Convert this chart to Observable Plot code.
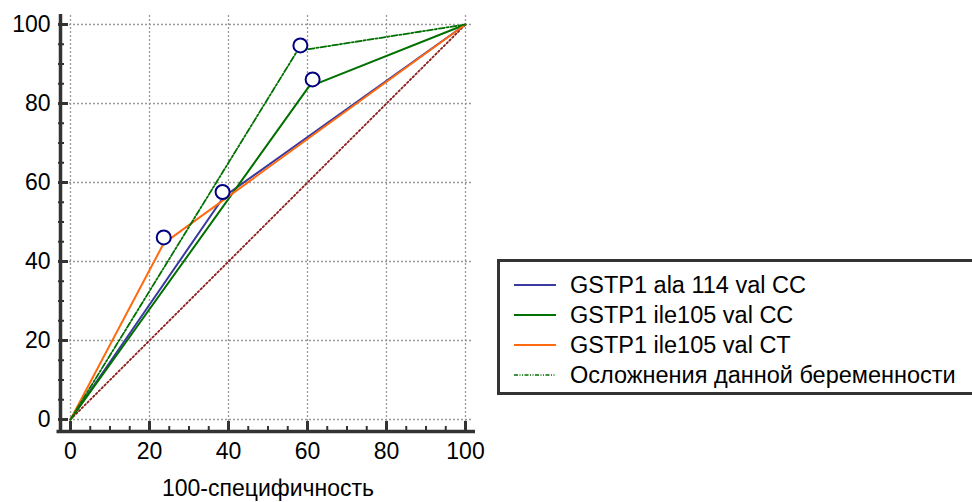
<!DOCTYPE html>
<html>
<head>
<meta charset="utf-8">
<script src="https://cdn.jsdelivr.net/npm/d3@7"></script>
<script src="https://cdn.jsdelivr.net/npm/@observablehq/plot@0.6"></script>
<style>
  html, body { margin: 0; padding: 0; background: #fff; }
  #wrap { position: relative; width: 972px; height: 502px; overflow: hidden; font-family: "Liberation Sans", Arial, sans-serif; }
  #legend { position: absolute; left: 497px; top: 259px; width: 500px; height: 130px; border: 3px solid #333; box-sizing: content-box; background: #fff; }
  .row { position: absolute; left: 14px; height: 30px; display: flex; align-items: center; font-size: 23.5px; color: #000; white-space: nowrap; }
  .row svg { margin-right: 14px; }
</style>
</head>
<body>
<div id="wrap"><div id="chart"></div><div id="legend"></div></div>
<script>
// ---- data ----
const seriesNames = ["GSTP1 ala 114 val CC", "GSTP1 ile105 val CC", "GSTP1 ile105 val CT", "Осложнения данной беременности"];
const seriesColors = ["#3a3aa0", "#007000", "#ff6a10", "#007000"];
const seriesDash = [null, null, null, "6,2,2,2"];
// ROC vertices: x = 100-specificity, y = sensitivity
const rocX = [
  [0, 38.8, 100],
  [0, 60.3, 100],
  [0, 23.6, 100],
  [0, 57.4, 100]
];
const rocY = [
  [0, 56.4, 100],
  [0, 84.2, 100],
  [0, 44.6, 100],
  [0, 93.3, 100]
];
// criterion markers (circles)
const markerX = [38.5, 61.3, 23.6, 58.2];
const markerY = [57.6, 86.1, 46.1, 94.7];
const diagX = [0, 100];
const diagY = [0, 100];
const majorTicks = [0, 20, 40, 60, 80, 100];
const minorTicks = [5, 10, 15, 25, 30, 35, 45, 50, 55, 65, 70, 75, 85, 90, 95];
const xTitle = "100-специфичность";

// ---- build tables ----
const rocPoints = [];
seriesNames.forEach((s, i) => rocX[i].forEach((x, j) => rocPoints.push({series: s, idx: i, x, y: rocY[i][j]})));
const markers = seriesNames.map((s, i) => ({series: s, x: markerX[i], y: markerY[i]}));
const diag = diagX.map((x, i) => ({x, y: diagY[i]}));

const axisColor = "#333";
const lineMarks = seriesNames.map((s, i) =>
  Plot.line(rocPoints.filter(d => d.idx === i), {
    x: "x", y: "y", stroke: seriesColors[i], strokeWidth: i === 3 ? 1.8 : 2,
    strokeDasharray: seriesDash[i] || undefined
  })
);

const chart = Plot.plot({
  width: 972,
  height: 502,
  marginLeft: 70,
  marginRight: 507,
  marginTop: 24,
  marginBottom: 83,
  style: {fontFamily: "'Liberation Sans', Arial, sans-serif", background: "#fff"},
  x: {domain: [0, 100]},
  y: {domain: [0, 100]},
  marks: [
    // grid
    Plot.ruleX(majorTicks, {x: d => d, stroke: "#999", strokeWidth: 1.3, strokeDasharray: "2,2", insetTop: -9, insetBottom: -3}),
    Plot.ruleY(majorTicks, {y: d => d, stroke: "#999", strokeWidth: 1.3, strokeDasharray: "2,2", insetLeft: -1, insetRight: -8}),
    // axis lines
    Plot.ruleX([0], {x: d => d, dx: -10, stroke: axisColor, strokeWidth: 3.5, insetTop: -10, insetBottom: -13.5}),
    Plot.ruleY([0], {y: d => d, dy: 12, stroke: axisColor, strokeWidth: 3.5, insetLeft: -13.5, insetRight: -10}),
    // ticks x
    Plot.ruleX(majorTicks, {x: d => d, y1: 0, y2: 0, insetTop: 2, insetBottom: -12, stroke: axisColor, strokeWidth: 3}),
    Plot.ruleX(minorTicks, {x: d => d, y1: 0, y2: 0, insetTop: 7, insetBottom: -12, stroke: axisColor, strokeWidth: 2}),
    // ticks y
    Plot.ruleY(majorTicks, {y: d => d, x1: 0, x2: 0, insetLeft: -12, insetRight: 2, stroke: axisColor, strokeWidth: 3}),
    Plot.ruleY(minorTicks, {y: d => d, x1: 0, x2: 0, insetLeft: -12, insetRight: 6, stroke: axisColor, strokeWidth: 2}),
    // tick labels
    Plot.axisX({ticks: majorTicks, tickSize: 0, tickPadding: 23, fontSize: 23, label: null, tickFormat: d => String(d)}),
    Plot.axisY({ticks: majorTicks, tickSize: 0, tickPadding: 20, fontSize: 23, label: null, tickFormat: d => String(d)}),
    Plot.text([xTitle], {frameAnchor: "bottom", dy: 69, fontSize: 23, text: d => d, lineAnchor: "middle", fill: "#000"}),
    // diagonal
    Plot.line(diag, {x: "x", y: "y", stroke: "#8b1a1a", strokeWidth: 1.8, strokeDasharray: "1.6,2.4"}),
    // ROC curves
    ...lineMarks,
    // markers
    Plot.dot(markers, {x: "x", y: "y", r: 7, stroke: "#000080", strokeWidth: 2, fill: "#fff"})
  ]
});
document.getElementById("chart").appendChild(chart);
chart.querySelectorAll("text").forEach(t => t.setAttribute("fill", "#000"));

// legend
const legend = document.getElementById("legend");
seriesNames.forEach((s, i) => {
  const row = document.createElement("div");
  row.className = "row";
  row.style.top = (8 + i * 30) + "px";
  row.innerHTML = `<svg width="42" height="4"><line x1="0" y1="2" x2="42" y2="2" stroke="${seriesColors[i]}" stroke-width="${i === 3 ? 1.5 : 1.8}" ${seriesDash[i] ? `stroke-dasharray="4,1.5,1,1.5,1,1.5"` : ""}/></svg><span>${s}</span>`;
  legend.appendChild(row);
});
</script>
</body>
</html>
